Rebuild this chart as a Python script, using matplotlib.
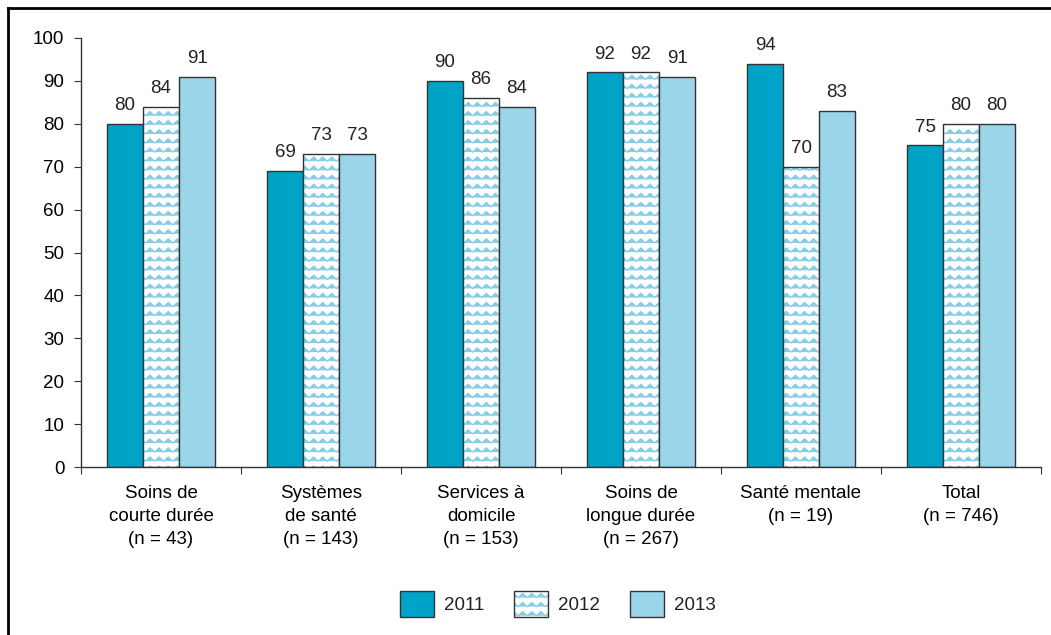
import warnings
import numpy as np
import matplotlib
matplotlib.use("Agg")
import matplotlib.pyplot as plt
import matplotlib.hatch as mhatch
from matplotlib.path import Path
from matplotlib.lines import Line2D
from matplotlib.legend_handler import HandlerTuple

warnings.filterwarnings("ignore")

# Données
categories = ["Soins de\ncourte durée\n(n = 43)", "Systèmes\nde santé\n(n = 143)",
              "Services à\ndomicile\n(n = 153)", "Soins de\nlongue durée\n(n = 267)",
              "Santé mentale\n(n = 19)", "Total\n(n = 746)"]
annees = ["2011", "2012", "2013"]
v2011 = [80, 69, 90, 92, 94, 75]
v2012 = [84, 73, 86, 92, 70, 80]
v2013 = [91, 73, 84, 91, 83, 80]
yticks = list(range(0, 101, 10))


# motif en zigzag pour la série 2012 (hachure 'z')
class ZigZag(mhatch.HatchPatternBase):
    def __init__(self, hatch, density):
        self.rows = 11 if "z" in hatch else 0
        self.teeth = 11
        self.num_lines = self.rows
        self.num_vertices = self.rows * (2 * self.teeth + 1)

    def set_vertices_and_codes(self, vertices, codes):
        n = 2 * self.teeth + 1
        xs = np.linspace(0, 1, n)
        sgn = np.where(np.arange(n) % 2 == 0, -1.0, 1.0)
        for r in range(self.rows):
            y0 = (r + 0.5) / self.rows
            sl = slice(r * n, (r + 1) * n)
            vertices[sl, 0] = xs
            vertices[sl, 1] = y0 + 0.021 * sgn
            codes[sl] = Path.LINETO
            codes[r * n] = Path.MOVETO


mhatch._hatch_types.append(ZigZag)

plt.rcParams["font.family"] = ["Liberation Sans", "DejaVu Sans"]
plt.rcParams["font.size"] = 13.5
plt.rcParams["text.color"] = "#222222"
plt.rcParams["hatch.linewidth"] = 0.9

c2011 = "#00a3c8"
c2013 = "#9ad5ea"
czig = "#86cde6"
bord = "#333333"

fig = plt.figure(figsize=(10.51, 6.35), dpi=100)
ax = fig.add_axes([81 / 1051, 1 - 467 / 635, 960 / 1051, 429 / 635])

x = np.arange(len(categories))
w = 0.225

ax.bar(x - w, v2011, w, color=c2011, edgecolor=bord, linewidth=1.0)
# 2012 : fond blanc + zigzag, puis contour foncé par-dessus
ax.bar(x, v2012, w, color="white", edgecolor=czig, linewidth=0, hatch="z")
ax.bar(x, v2012, w, color="none", edgecolor=bord, linewidth=1.0)
ax.bar(x + w, v2013, w, color=c2013, edgecolor=bord, linewidth=1.0)

for serie, dx in ((v2011, -w), (v2012, 0), (v2013, w)):
    for xi, v in zip(x, serie):
        ax.annotate(str(v), (xi + dx, v), xytext=(0, 7), textcoords="offset points",
                    ha="center", va="bottom")

ax.set_xlim(-0.5, 5.5)
ax.set_ylim(0, 100)
ax.set_yticks(yticks)
ax.set_xticks(np.arange(len(categories) + 1) - 0.5)
ax.set_xticklabels([])
ax.set_xticks(x, minor=True)
ax.set_xticklabels(categories, minor=True, linespacing=1.45)
ax.tick_params(axis="x", which="minor", length=0, pad=13)
ax.tick_params(axis="x", which="major", direction="out", length=5, color=bord)
ax.tick_params(axis="y", direction="out", length=5, color=bord, pad=7)
for s in ("top", "right"):
    ax.spines[s].set_visible(False)
for s in ("left", "bottom"):
    ax.spines[s].set_color(bord)
    ax.spines[s].set_linewidth(1.0)

# légende
h1 = plt.Rectangle((0, 0), 1, 1, facecolor=c2011, edgecolor=bord, linewidth=1.0)
h2a = plt.Rectangle((0, 0), 1, 1, facecolor="white", edgecolor=czig, linewidth=0, hatch="z")
h2b = plt.Rectangle((0, 0), 1, 1, facecolor="none", edgecolor=bord, linewidth=1.0)
h3 = plt.Rectangle((0, 0), 1, 1, facecolor=c2013, edgecolor=bord, linewidth=1.0)
fig.legend([h1, (h2a, h2b), h3], annees, loc="center", bbox_to_anchor=(558 / 1051, 1 - 604 / 635),
           ncol=3, frameon=False, handlelength=1.8, handleheight=1.75, handletextpad=0.55,
           columnspacing=1.6, handler_map={tuple: HandlerTuple(ndivide=1, pad=0)})

# cadre extérieur
fig.add_artist(Line2D([8 / 1051, 8 / 1051], [0, 1 - 8 / 635], color="black", lw=2))
fig.add_artist(Line2D([8 / 1051, 1], [1 - 8 / 635, 1 - 8 / 635], color="black", lw=2))

fig.savefig("out.png", dpi=100)
